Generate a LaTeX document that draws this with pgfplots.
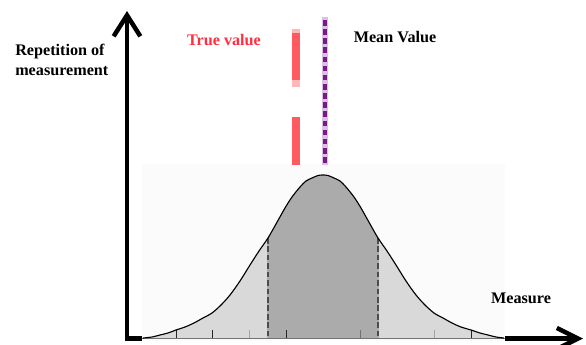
\documentclass[border=0pt]{standalone}
\usepackage{pgfplots}
\pgfplotsset{compat=1.18}
\usepackage{fontspec}
\setmainfont{Liberation Serif}
\usetikzlibrary{arrows.meta}

\definecolor{bgbox}{HTML}{FBFBFB}
\definecolor{lightfill}{HTML}{D9D9D9}
\definecolor{darkfill}{HTML}{ABABAB}
\definecolor{truered}{HTML}{FF5A5F}
\definecolor{truepink}{HTML}{FFB8BA}
\definecolor{truetext}{HTML}{FF2E40}
\definecolor{meanpurple}{HTML}{7A1A88}
\definecolor{meanhalo}{HTML}{DCC0E4}

% curve (pixel x, pixel y from top)
\pgfplotstableread{
x y
143 338
152 337
160 335
168 333
176 330
185 327
194 323
203 318
212 313
221 305
230 295
240 281
250 265
259 251
268 238
276 224
285 208
292 197
300 187
306 181
312 178
318 175.5
323 175
328 175.5
334 178
340 181
346 187
354 197
361 208
370 224
378 238
387 251
396 265
406 281
416 295
425 305
434 313
443 318
452 323
461 327
471 330
480 333
488 335
496 337
504 338
}\curve

\pgfplotstableread{
x y
268 238
276 224
285 208
292 197
300 187
306 181
312 178
318 175.5
323 175
328 175.5
334 178
340 181
346 187
354 197
361 208
370 224
378 238
}\middle

\begin{document}
\begin{tikzpicture}
\begin{axis}[
    scale only axis,
    width=14.65cm, height=8.625cm,
    xmin=0, xmax=586, ymin=0, ymax=345,
    y dir=reverse,
    hide axis,
    clip=false,
    enlargelimits=false,
]
% axes
\addplot[black, line width=3.2pt, -{Straight Barb[length=15pt,width=19pt]}] coordinates {(127,340) (127,11)};
\addplot[black, line width=3.2pt, -{Straight Barb[length=15pt,width=15pt]}] coordinates {(125,338.5) (583,338.5)};
% faint background box of the curve
\addplot[fill=bgbox, draw=none] coordinates {(142,164) (505,164) (505,340.5) (142,340.5)};
% light area under the whole curve
\addplot[fill=lightfill, draw=none, smooth] table {\curve};
% dark middle area
\addplot[fill=darkfill, draw=none, smooth] table {\middle};
\addplot[fill=darkfill, draw=darkfill, line width=0.8pt] coordinates {(268,238.5) (378,238.5) (378,338) (268,338)} -- cycle;
% baseline
\addplot[color=black!55, line width=1.2pt] coordinates {(142,338.5) (505,338.5)};
% ticks
\addplot[black!85, line width=0.6pt] coordinates {(176,338) (176,330)};
\addplot[black!85, line width=0.6pt] coordinates {(212,338) (212,330)};
\addplot[black!35, line width=0.6pt] coordinates {(249,338) (249,330)};
\addplot[black!85, line width=0.6pt] coordinates {(286,338) (286,330)};
\addplot[black!55, line width=0.6pt] coordinates {(360,338) (360,330)};
\addplot[black!35, line width=0.6pt] coordinates {(434,338) (434,330)};
\addplot[black!85, line width=0.6pt] coordinates {(471,338) (471,330)};
% dashed limits
\addplot[black!70, line width=0.8pt, dash pattern=on 4pt off 2pt] coordinates {(268,238) (268,338)};
\addplot[black!70, line width=0.8pt, dash pattern=on 4pt off 2pt] coordinates {(378,238) (378,338)};
% curve outline
\addplot[black, line width=0.8pt, smooth] table {\curve};
% true value bars
\addplot[truepink, line width=5.7pt] coordinates {(296,29) (296,87)};
\addplot[truered, line width=5.7pt] coordinates {(296,33) (296,80)};
\addplot[truered, line width=5.7pt] coordinates {(296,117) (296,165)};
% mean value line
\addplot[meanhalo, line width=4.2pt] coordinates {(325,17) (325,165)};
\addplot[meanpurple, line width=2.2pt, dash pattern=on 4pt off 2.5pt] coordinates {(325,20) (325,165)};
% texts
\node[anchor=west, align=left, inner sep=0pt, font=\bfseries\fontsize{11.5}{14.5}\selectfont] at (15,60) {Repetition of\\measurement};
\node[inner sep=0pt, text=truetext, font=\bfseries\fontsize{11.5}{13}\selectfont] at (224,40) {True value};
\node[inner sep=0pt, font=\bfseries\fontsize{11.5}{13}\selectfont] at (395,37) {Mean Value};
\node[inner sep=0pt, font=\bfseries\fontsize{11.5}{13}\selectfont] at (521,298) {Measure};
\end{axis}
\pgfresetboundingbox
\useasboundingbox (current axis.south west) rectangle (current axis.north east);
\end{tikzpicture}
\end{document}
